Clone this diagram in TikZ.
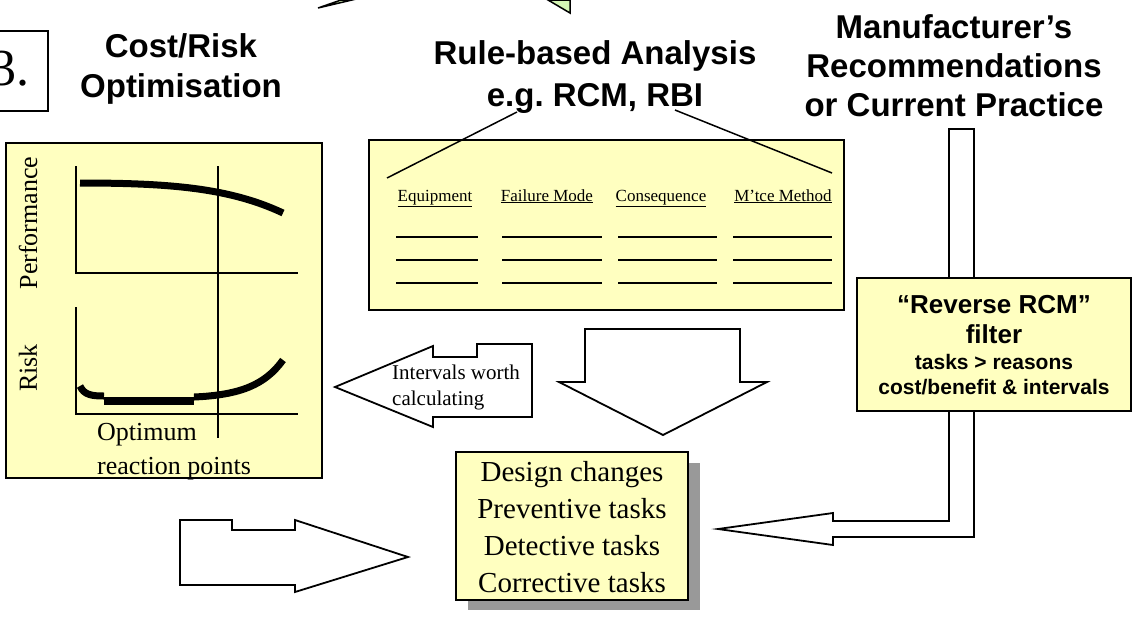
\documentclass[tikz,border=0pt]{standalone}
\usepackage{fontspec}
\setmainfont{Liberation Serif}
\newfontfamily\arial{Liberation Sans}
\definecolor{paleyellow}{HTML}{FFFFC0}
\definecolor{palegreen}{HTML}{D4F5B4}
\definecolor{shadowgrey}{HTML}{999999}
\begin{document}
\begin{tikzpicture}[x=1pt,y=-1pt,line join=miter,
  ybox/.style={draw=black,line width=2pt,fill=paleyellow},
  head/.style={font=\arial\bfseries\fontsize{33}{40}\selectfont,align=center,inner sep=0pt},
  serif/.style={inner sep=0pt,align=center},
  colhead/.style={inner sep=0pt,anchor=base,font=\fontsize{17}{20}\selectfont},
  outline/.style={draw=black,line width=1.8pt,fill=white},
  axis/.style={line width=1.6pt},
  curve/.style={line width=7pt},
  rule/.style={line width=2pt},
  thin/.style={line width=1.5pt}]
\useasboundingbox (0,0) rectangle (1135,622);

% top green shapes (partly visible)
\filldraw[fill=palegreen,draw=black,line width=1.5pt] (318,8) -- (341,0) -- (352,0) -- cycle;
\filldraw[fill=palegreen,draw=black,line width=1.5pt] (548,0) -- (570,13) -- (570,0) -- cycle;

% section number
\node[draw=black,line width=1.5pt,fill=white,minimum width=68pt,minimum height=80pt,inner sep=0pt] (numbox) at (14,71) {};
\node[inner sep=0pt,anchor=base east,font=\fontsize{52}{60}\selectfont] (num) at (30,85) {3.};

% headings
\node[head] (cr) at (181,69) {Cost/Risk\\Optimisation};
\node[head] (rb) at (595,77) {Rule-based Analysis\\[2pt]e.g.\ RCM, RBI};
\node[head,font=\arial\bfseries\fontsize{33}{39}\selectfont] (mr) at (954,66) {Manufacturer’s\\Recommendations\\or Current Practice};

% left chart box
\node[ybox,minimum width=316pt,minimum height=335pt,inner sep=0pt] (chart) at (164,310.5) {};
\coordinate (yA) at (76,166);
\coordinate (oA) at (76,273);
\coordinate (xA) at (298,273);
\coordinate (yB) at (76,307);
\coordinate (oB) at (76,414);
\coordinate (xB) at (298,414);
\coordinate (vt) at (218,166);
\coordinate (vb) at (218,438);
\draw[axis] (yA) -- (oA) -- (xA);
\draw[axis] (yB) -- (oB) -- (xB);
\draw[axis] (vt) -- (vb);
\draw[curve] (80,183) .. controls (170,183) and (230,188) .. (283,213);
\draw[curve] (80,386) .. controls (84,395) and (92,396) .. (104,396);
\draw[line width=8pt] (104,401) -- (194,401);
\draw[curve] (194,397) .. controls (240,395) and (265,385) .. (283,360);
\node[serif,rotate=90,font=\fontsize{26}{30}\selectfont] (perf) at (28,223) {Performance};
\node[serif,rotate=90,font=\fontsize{26}{30}\selectfont] (risk) at (28,368) {Risk};
\node[inner sep=0pt,align=left,anchor=west,font=\fontsize{26}{34}\selectfont] (opt) at (97,452) {Optimum\\reaction points};

% rule table box
\node[ybox,minimum width=475pt,minimum height=170pt,inner sep=0pt] (table) at (606.5,225) {};
\node[colhead] (h1) at (435,201) {\underline{Equipment}};
\node[colhead] (h2) at (547,201) {\underline{Failure Mode}};
\node[colhead] (h3) at (661,201) {\underline{Consequence}};
\node[colhead] (h4) at (783,201) {\underline{M’tce Method}};
\foreach \y in {237,260,283}{
  \draw[rule] (396,\y) -- (478,\y);
  \draw[rule] (502,\y) -- (602,\y);
  \draw[rule] (618,\y) -- (717,\y);
  \draw[rule] (733,\y) -- (832,\y);
}
\coordinate (lt) at (517,112);
\coordinate (lb) at (387,178);
\coordinate (rt) at (675,110);
\coordinate (rbt) at (832,173);
\draw[thin] (lt) -- (lb);
\draw[thin] (rt) -- (rbt);

% right bar + bent arrow
\draw[outline] (949,129) -- (974,129) -- (974,537) -- (833,537) -- (833,545) -- (718,529) -- (833,513) -- (833,521) -- (949,521) -- cycle;
\node[ybox,minimum width=274pt,minimum height=133pt,inner sep=0pt] (filter) at (994,344.5) {};
\node[serif,font=\arial\bfseries\fontsize{26}{30}\selectfont] (ftext) at (994,345) {“Reverse RCM”\\filter\\[-4pt]{\fontsize{21}{25}\selectfont tasks > reasons}\\[-5pt]{\fontsize{21}{25}\selectfont cost/benefit \& intervals}};

% down arrow
\draw[outline] (585,329) -- (740,329) -- (740,382) -- (767,382) -- (663,435) -- (559,382) -- (585,382) -- cycle;

% intervals arrow
\draw[outline] (532,344) -- (532,417) -- (433,417) -- (433,427) -- (335,387) -- (433,346) -- (433,357) -- (477,357) -- (477,344) -- cycle;
\node[inner sep=0pt,align=left,anchor=west,font=\fontsize{21}{26}\selectfont] (intv) at (392,387) {Intervals worth\\calculating};

% bottom-left arrow
\draw[outline] (180,520) -- (232,520) -- (232,530) -- (295,530) -- (295,520) -- (408,557) -- (295,592) -- (295,585) -- (180,585) -- cycle;

% tasks box
\fill[shadowgrey] (468,463) rectangle (700,610);
\node[ybox,minimum width=232pt,minimum height=148pt,inner sep=0pt] (tasks) at (572,526) {};
\node[serif,font=\fontsize{29}{37}\selectfont] (ttext) at (572,527) {Design changes\\Preventive tasks\\Detective tasks\\Corrective tasks};
\end{tikzpicture}
\end{document}
